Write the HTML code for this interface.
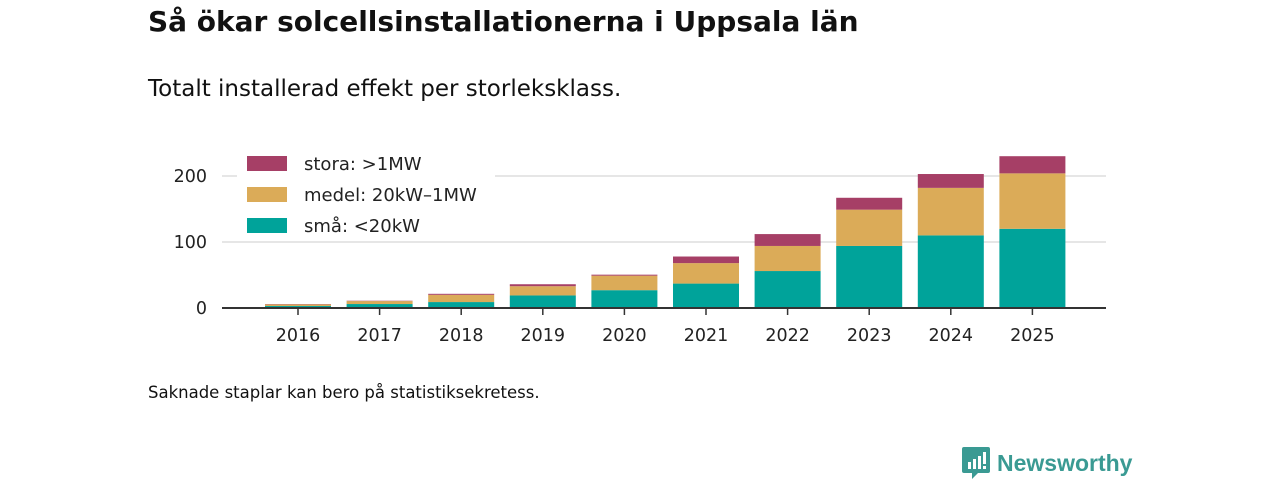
<!DOCTYPE html>
<html><head><meta charset="utf-8"><style>
body{margin:0;width:1280px;height:480px;background:#fff;font-family:"DejaVu Sans",sans-serif;overflow:hidden;position:relative}
.t{position:absolute;color:#111;white-space:nowrap}
</style></head><body>
<div class="t" style="left:148px;top:5px;font-size:28px;font-weight:bold">Så ökar solcellsinstallationerna i Uppsala län</div>
<div class="t" style="left:148px;top:76px;font-size:23px">Totalt installerad effekt per storleksklass.</div>
<div class="t" style="left:148px;top:383px;font-size:16.5px">Saknade staplar kan bero på statistiksekretess.</div>
<svg id="chart" width="1280" height="480" style="position:absolute;left:0;top:0"></svg>
<div style="position:absolute;left:962px;top:447px;display:flex;align-items:center">
<svg width="28" height="32"><path d="M0 2 Q0 0 2 0 H26 Q28 0 28 2 V24 Q28 26 26 26 H16 L10 32 V26 H2 Q0 26 0 24Z" fill="#3a9a93"/><rect x="6" y="15" width="3" height="7" fill="#fff"/><rect x="11" y="12" width="3" height="10" fill="#fff"/><rect x="16" y="9" width="3" height="13" fill="#fff"/><rect x="21" y="5" width="3" height="12" fill="#fff"/><rect x="21" y="19" width="3" height="3" fill="#fff"/></svg>
<span style="font-family:'Liberation Sans',sans-serif;font-size:23px;font-weight:bold;color:#3a9a93;margin-left:7px">Newsworthy</span></div>
<script>
const years=["2016","2017","2018","2019","2020","2021","2022","2023","2024","2025"];
const sma=[3,6,9,19,27,37,56,94,110,120];
const medel=[2.5,4.5,11,14,22,31,38,55,72,84];
const stora=[0.5,0.5,1.5,3,1.5,10,18,18,21,26];
const yTicks=[0,100,200];
const ns="http://www.w3.org/2000/svg";
const svg=document.getElementById('chart');
const x0=222,x1=1106,y0=308,k=0.66;
const first=298,bw=66;
const Y=v=>y0-v*k, X=i=>first+i*81.6;
function el(t,a){const e=document.createElementNS(ns,t);for(const q in a)e.setAttribute(q,a[q]);svg.appendChild(e);return e;}
yTicks.forEach(v=>{
 if(v>0){const g=el('line',{x1:x0,x2:x1,y1:Y(v),y2:Y(v),stroke:'#ddd','stroke-width':1.5});
 
 }
 const t=el('text',{x:207,y:Y(v)+6,'text-anchor':'end','font-size':17.5,fill:'#222','font-family':'DejaVu Sans'});
 t.textContent=v;
 
 
});
const series=[[sma,'#00a39a','sma'],[medel,'#dbab58','medel'],[stora,'#a63f66','stora']];
years.forEach((yr,i)=>{
 let base=0;
 series.forEach(([arr,c,n])=>{
  const r=el('rect',{x:X(i)-bw/2,y:Y(base+arr[i]),width:bw,height:arr[i]*k,fill:c});
  
  
  base+=arr[i];
 });
 const tk=el('line',{x1:X(i),x2:X(i),y1:y0,y2:y0+7,stroke:'#333','stroke-width':1.5});
 
 
 const t=el('text',{x:X(i),y:341,'text-anchor':'middle','font-size':17.5,fill:'#222','font-family':'DejaVu Sans'});
 t.textContent=yr;
 
 
});
const ax=el('line',{x1:x0,x2:x1,y1:y0,y2:y0,stroke:'#333','stroke-width':2});


const lb=el('rect',{x:237,y:147,width:258,height:94,fill:'#fff'});


const leg=[['stora: >1MW','#a63f66'],['medel: 20kW–1MW','#dbab58'],['små: <20kW','#00a39a']];
leg.forEach(([l,c],j)=>{
 const r=el('rect',{x:247,y:156+j*31,width:40,height:15,fill:c});
 
 
 const t=el('text',{x:304,y:170+j*31,'font-size':18,fill:'#222','font-family':'DejaVu Sans'});
 t.textContent=l;
 
 
});
</script>
</body></html>
